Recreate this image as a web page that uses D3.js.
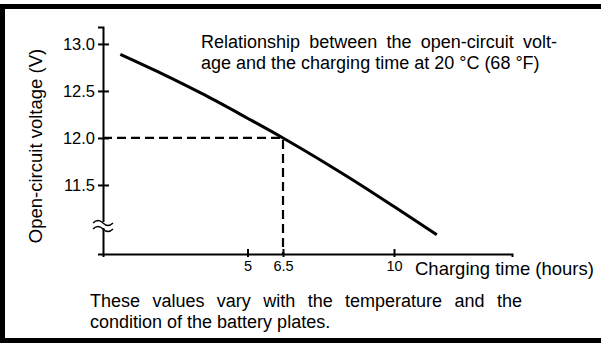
<!DOCTYPE html>
<html>
<head>
<meta charset="utf-8">
<script src="https://cdn.jsdelivr.net/npm/d3@7"></script>
<style>
  html, body { margin: 0; padding: 0; background: #fff; }
  svg { display: block; }
  text { font-family: "Liberation Sans", Arial, Helvetica, sans-serif; fill: #000; }
</style>
</head>
<body>
<svg id="chart" width="601" height="343"></svg>
<script>
// Charging curve: open-circuit voltage against charging time (20 °C)
const chargeHours = [0.6, 2.0, 3.5, 5.0, 6.5, 8.0, 9.0, 10.0, 11.45];
const openVoltage = [12.89, 12.69, 12.46, 12.21, 12.0, 11.70, 11.49, 11.27, 10.97];

// Reference reading marked with dashed guides
const referenceHours = 6.5;
const referenceVolts = 12.0;

// Axis ticks
const voltTicks = [11.5, 12.0, 12.5, 13.0];
const hourTicks = [5, 6.5, 10];

// Texts
const titleLines = ["Relationship between the open-circuit volt-",
                    "age and the charging time at 20 °C (68 °F)"];
const noteLines = ["These values vary with the temperature and the",
                   "condition of the battery plates."];
const yLabel = "Open-circuit voltage (V)";
const xLabel = "Charging time (hours)";

const svg = d3.select("#chart");
const FONT = '"Liberation Sans", Arial, Helvetica, sans-serif';

// Frame
svg.append("rect")
  .attr("x", 2.5).attr("y", 6.5)
  .attr("width", 620).attr("height", 334)
  .attr("fill", "none").attr("stroke", "#000").attr("stroke-width", 5);

// Scales: the time axis is drawn piecewise between its marked hours
const x = d3.scaleLinear()
  .domain([0, 5, 6.5, 10, 14])
  .range([103, 247.5, 283, 394, 512]);
const y = d3.scaleLinear()
  .domain([10.766, 13.18])
  .range([254, 27]);

// Y axis
const gy = svg.append("g").attr("transform", `translate(${x(0)},0)`)
  .call(d3.axisLeft(y).tickValues(voltTicks).tickFormat(d3.format(".1f"))
    .tickSizeOuter(0).tickSize(5).tickPadding(3));
gy.select(".domain").attr("stroke-width", 2);
gy.selectAll(".tick line").attr("x1", 6).attr("x2", -5).attr("stroke-width", 2);
gy.selectAll(".tick text").attr("font-size", 16.5).attr("font-family", FONT).attr("dy", "0.36em");

// X axis
const gx = svg.append("g").attr("transform", `translate(0,${y.range()[0]})`)
  .call(d3.axisBottom(x).tickValues(hourTicks).tickFormat(d => String(d))
    .tickSizeOuter(0).tickSize(3).tickPadding(4));
gx.select(".domain").attr("stroke-width", 2);
gx.selectAll(".tick line").attr("y1", 3).attr("y2", -5).attr("stroke-width", 2);
gx.selectAll(".tick text").attr("font-size", 14.5).attr("font-family", FONT);

// Axis break on the voltage axis
const breakY = 225;
svg.append("rect").attr("x", x(0) - 3).attr("y", breakY - 3)
  .attr("width", 6).attr("height", 6).attr("fill", "#fff");
[breakY - 3, breakY + 3].forEach(by => {
  svg.append("path")
    .attr("d", `M${x(0) - 10},${by + 1} q5,-5 10,0 t10,0`)
    .attr("fill", "none").attr("stroke", "#000").attr("stroke-width", 1.4);
});

// Dashed guides to the reference reading
svg.append("path")
  .attr("d", `M${x(0)},${y(referenceVolts)} H${x(referenceHours)} V${y.range()[0]}`)
  .attr("fill", "none").attr("stroke", "#000").attr("stroke-width", 2.2)
  .attr("stroke-dasharray", "9,5");

// Voltage curve
const line = d3.line()
  .x((d, i) => x(chargeHours[i]))
  .y(d => y(d))
  .curve(d3.curveMonotoneX);
svg.append("path")
  .attr("d", line(openVoltage))
  .attr("fill", "none").attr("stroke", "#000").attr("stroke-width", 3);

// Text helpers; justified lines get their words spread to a target width
function textLine(str, x0, yb, size, justifyTo) {
  const t = svg.append("text").attr("x", x0).attr("y", yb)
    .attr("font-size", size).attr("font-family", FONT);
  if (!justifyTo) { t.text(str); return t; }
  const words = str.split(" ");
  const widths = words.map(w => {
    const m = svg.append("text").attr("font-size", size).attr("font-family", FONT).text(w);
    const wd = m.node().getComputedTextLength(); m.remove(); return wd;
  });
  const gap = (justifyTo - x0 - d3.sum(widths)) / (words.length - 1);
  let cx = x0;
  words.forEach((w, i) => {
    t.append("tspan").attr("x", cx).attr("y", yb).text(w);
    cx += widths[i] + gap;
  });
  return t;
}

textLine(titleLines[0], 201, 48, 18, 557);
textLine(titleLines[1], 201, 68.6, 18);
textLine(noteLines[0], 90, 307.2, 18, 522);
textLine(noteLines[1], 90, 327.6, 18);
textLine(xLabel, 415, 275, 18.5);

svg.append("text")
  .attr("transform", `translate(41.5,146) rotate(-90)`)
  .attr("text-anchor", "middle")
  .attr("font-size", 18.5).attr("font-family", FONT)
  .text(yLabel);
</script>
</body>
</html>
